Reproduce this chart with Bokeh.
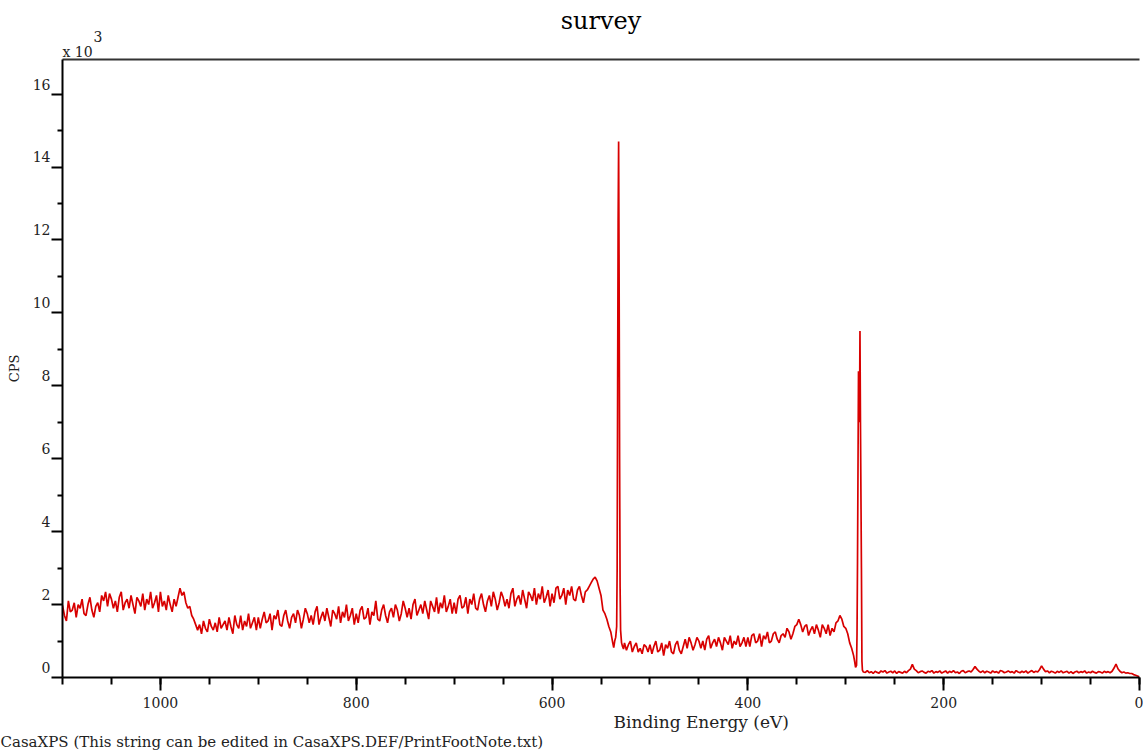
from bokeh.plotting import figure
from bokeh.models import Range1d, FixedTicker, LinearAxis, ColumnDataSource, Title
from bokeh.embed import file_html
from bokeh.resources import INLINE

# ---------------- data ----------------
# background spectrum, binding energy every 2 eV from 1100 down to 0
be_base = list(range(1100, -1, -2))
cps_base = [
    # 1100 .. 1002
    1980, 1700, 1550, 2100, 1800, 1850, 2050, 1650, 2000, 1900,
    2150, 1750, 1700, 2000, 2200, 1850, 1650, 1950, 2050, 1800,
    2250, 2100, 2350, 1950, 2300, 2150, 1900, 2100, 1800, 2200,
    2350, 1850, 2050, 2150, 1900, 2250, 2000, 1750, 2200, 2100,
    1950, 2300, 1850, 2150, 2000, 2350, 1900, 2050, 2250, 1800,
    # 1000 .. 902
    2350, 1950, 2100, 1850, 2250, 2000, 1800, 2150, 1950, 2200,
    2450, 2250, 2350, 2050, 1900, 1950, 1700, 1600, 1450, 1300,
    1450, 1200, 1550, 1350, 1250, 1600, 1400, 1300, 1500, 1250,
    1650, 1350, 1450, 1550, 1300, 1650, 1400, 1200, 1700, 1450,
    1350, 1700, 1300, 1550, 1400, 1750, 1350, 1500, 1650, 1300,
    # 900 .. 802
    1650, 1350, 1600, 1800, 1500, 1550, 1750, 1300, 1700, 1600,
    1850, 1450, 1400, 1700, 1850, 1550, 1350, 1650, 1750, 1500,
    1850, 1700, 1350, 1600, 1900, 1750, 1500, 1700, 1450, 1800,
    1950, 1450, 1650, 1800, 1550, 1900, 1650, 1400, 1850, 1750,
    1600, 1950, 1500, 1800, 1650, 2000, 1550, 1700, 1900, 1450,
    # 800 .. 702
    1750, 1500, 1850, 1950, 1600, 1650, 1900, 1450, 1800, 1700,
    2100, 1600, 1550, 1850, 2000, 1700, 1500, 1800, 1900, 1650,
    2000, 1850, 1550, 1750, 2100, 1900, 1650, 1900, 1600, 2000,
    2150, 1700, 1850, 2000, 1750, 2100, 1850, 1600, 2100, 1950,
    1800, 2200, 1750, 2050, 1900, 2250, 1800, 1950, 2150, 1750,
    # 700 .. 602
    2050, 1750, 2150, 2250, 1900, 1950, 2200, 1750, 2150, 2000,
    2300, 1900, 1850, 2150, 2300, 2000, 1800, 2100, 2250, 1950,
    2350, 2150, 1850, 2050, 2350, 2200, 1950, 2150, 1900, 2300,
    2450, 1950, 2150, 2250, 2000, 2400, 2150, 1900, 2350, 2250,
    2100, 2450, 2000, 2300, 2150, 2500, 2050, 2200, 2400, 1950,
    # 600 .. 502
    2300, 2050, 2450, 2500, 2150, 2250, 2450, 2000, 2400, 2250,
    2500, 2150, 2100, 2400, 2500, 2250, 2050, 2350, 2400, 2500,
    2600, 2700, 2750, 2650, 2450, 2250, 1850, 1750, 1600, 1400,
    1250, 950, 1000, 1400, 14700, 1300, 850, 950, 750, 900,
    1000, 700, 850, 950, 700, 800, 650, 900, 850, 700,
    # 500 .. 402
    900, 650, 850, 1000, 700, 750, 950, 600, 900, 800,
    1000, 700, 650, 900, 1000, 750, 650, 850, 1050, 800,
    1100, 950, 750, 900, 1100, 1000, 800, 1000, 750, 1050,
    1150, 800, 950, 1050, 850, 1100, 950, 750, 1100, 1000,
    900, 1150, 800, 1000, 900, 1150, 850, 950, 1100, 850,
    # 400 .. 302
    1100, 850, 1150, 1200, 950, 1000, 1200, 850, 1150, 1050,
    1250, 950, 1000, 1200, 1250, 1050, 950, 1150, 1200, 1100,
    1350, 1250, 1050, 1200, 1400, 1450, 1600, 1450, 1250, 1400,
    1450, 1150, 1300, 1400, 1200, 1450, 1300, 1100, 1450, 1350,
    1200, 1450, 1150, 1350, 1250, 1500, 1550, 1700, 1600, 1400,
    # 300 .. 202
    1350, 1200, 950, 800, 600, 280, 3200, 7000, 3000, 150,
    140, 190, 130, 160, 110, 170, 140, 120, 180, 150,
    190, 120, 150, 170, 130, 180, 110, 160, 140, 120,
    170, 130, 190, 230, 360, 230, 190, 130, 160, 180,
    140, 120, 170, 150, 190, 120, 160, 140, 180, 120,
    # 200 .. 102
    150, 180, 120, 170, 140, 190, 130, 150, 110, 170,
    190, 130, 160, 180, 150, 220, 300, 230, 170, 140,
    180, 130, 170, 150, 120, 180, 140, 160, 120, 190,
    170, 130, 150, 180, 140, 160, 120, 190, 150, 130,
    170, 140, 180, 120, 160, 190, 140, 170, 150, 220,
    # 100 .. 0
    320, 230, 160, 180, 130, 170, 150, 120, 170, 140,
    180, 130, 150, 170, 120, 160, 110, 150, 170, 130,
    160, 140, 180, 120, 150, 130, 170, 140, 120, 160,
    150, 120, 170, 140, 160, 130, 170, 260, 370, 240,
    170, 130, 150, 120, 130, 110, 110, 80, 60, 40,
    20,
]
assert len(be_base) == len(cps_base)

# O 1s peak detail
o1s_be = [537, 536, 535, 534, 533.5, 533, 532.5, 532, 531.5, 531, 530.5, 530, 529, 528, 527]
o1s_cps = [820, 1000, 1100, 1400, 3000, 8000, 12500, 14700, 11000, 6000, 2500, 1300, 950, 850, 780]

# C 1s peak detail
c1s_be = [291, 290, 289, 288.5, 288, 287, 286, 285.5, 285, 284, 283.5, 283, 282]
c1s_cps = [450, 280, 330, 1200, 3200, 8400, 7000, 9500, 7000, 3000, 450, 200, 150]

x_major = [1000, 800, 600, 400, 200, 0]
x_minor = list(range(0, 1101, 50))
y_major = [0, 2000, 4000, 6000, 8000, 10000, 12000, 14000, 16000]
y_minor = [1000, 3000, 5000, 7000, 9000, 11000, 13000, 15000]
y_labels = ["0", "2", "4", "6", "8", "10", "12", "14", "16"]

# ---------------- build spectrum ----------------
pts = [(b, c) for b, c in zip(be_base, cps_base)
       if not (527 <= b <= 537 or 282 <= b <= 291)]
pts += list(zip(o1s_be, o1s_cps)) + list(zip(c1s_be, c1s_cps))
pts.sort(key=lambda t: -t[0])
src = ColumnDataSource(dict(be=[t[0] for t in pts], cps=[t[1] for t in pts]))

FONT = "DejaVu Serif"
TXT = "#222222"

p = figure(width=1143, height=750, x_range=Range1d(1100, 0), y_range=Range1d(0, 16950),
           output_backend="svg", toolbar_location=None, title=None,
           min_border_left=62, min_border_right=4, min_border_top=59, min_border_bottom=72)
p.outline_line_color = None
p.xgrid.visible = False
p.ygrid.visible = False

p.line("be", "cps", source=src, line_color="#d80000", line_width=1.7)

# x axis
xa = p.xaxis[0]
xa.ticker = FixedTicker(ticks=x_major, minor_ticks=x_minor)
xa.axis_line_width = 2
xa.axis_line_color = "black"
xa.major_tick_line_width = 2
xa.minor_tick_line_width = 2
xa.major_tick_in = 0
xa.major_tick_out = 13
xa.minor_tick_in = 0
xa.minor_tick_out = 7
xa.major_label_text_font = FONT
xa.major_label_text_font_size = "14px"
xa.major_label_text_color = TXT
xa.major_label_standoff = 6

# y axis (labels sit just above their ticks: trailing empty line)
ya = p.yaxis[0]
ya.ticker = FixedTicker(ticks=y_major, minor_ticks=y_minor)
ya.major_label_overrides = {v: lab + "\n" for v, lab in zip(y_major, y_labels)}
ya.axis_line_width = 2
ya.axis_line_color = "black"
ya.major_tick_line_width = 2
ya.minor_tick_line_width = 2
ya.major_tick_in = 0
ya.major_tick_out = 11
ya.minor_tick_in = 0
ya.minor_tick_out = 5
ya.major_label_text_font = FONT
ya.major_label_text_font_size = "14px"
ya.major_label_text_color = TXT
ya.major_label_standoff = 1
ya.axis_label = "CPS"
ya.axis_label_text_font = FONT
ya.axis_label_text_font_size = "13px"
ya.axis_label_text_font_style = "normal"
ya.axis_label_text_color = TXT
ya.axis_label_standoff = 8

# top frame line
top = LinearAxis(ticker=FixedTicker(ticks=[]), axis_line_width=2, axis_line_color="#333333",
                 major_label_text_font_size="0px", major_tick_line_color=None,
                 minor_tick_line_color=None)
p.add_layout(top, "above")

p.add_layout(Title(text="x 10", align="left", offset=0, standoff=0,
                   text_font=FONT, text_font_size="14px", text_font_style="normal",
                   text_color=TXT), "above")
p.add_layout(Title(text="3", align="left", offset=31, standoff=0,
                   text_font=FONT, text_font_size="14px", text_font_style="normal",
                   text_color=TXT), "above")
p.add_layout(Title(text="survey", align="center", offset=2, standoff=-12,
                   text_font=FONT, text_font_size="24px", text_font_style="normal",
                   text_color="black"), "above")

p.add_layout(Title(text="Binding Energy (eV)", align="left", offset=551, standoff=-1,
                   text_font=FONT, text_font_size="17px", text_font_style="normal",
                   text_color=TXT), "below")
p.add_layout(Title(text="CasaXPS (This string can be edited in CasaXPS.DEF/PrintFootNote.txt)",
                   align="left", offset=-62, standoff=-1,
                   text_font=FONT, text_font_size="15px", text_font_style="normal",
                   text_color=TXT), "below")

open("out.html", "w").write(file_html(p, INLINE))
